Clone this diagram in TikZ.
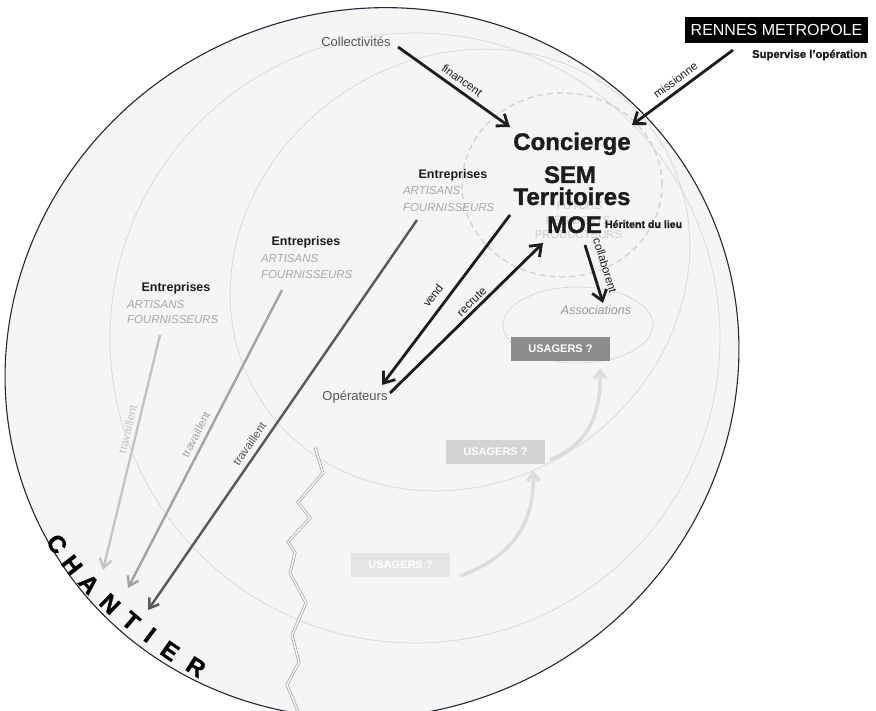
\documentclass[tikz,border=0pt]{standalone}
\usepackage{fontspec}
\setmainfont{Liberation Sans}
\newfontfamily\heavyfont{Liberation Sans}[UprightFeatures={FakeBold=1.3}, BoldFeatures={FakeBold=1.3}]
\usetikzlibrary{arrows.meta}
\definecolor{bgc}{HTML}{F5F5F5}
\definecolor{edgec}{HTML}{1E2B36}
\definecolor{ringc}{HTML}{DADADA}
\definecolor{dashc}{HTML}{D2D2D2}
\definecolor{inkc}{HTML}{1C1C1C}
\definecolor{txtgray}{HTML}{555555}
\definecolor{ghost}{HTML}{CDCDCD}
\definecolor{lightit}{HTML}{A8A8A8}
\definecolor{assoctxt}{HTML}{999999}
\definecolor{trava}{HTML}{C4C4C4}
\definecolor{travb}{HTML}{A3A3A3}
\definecolor{travc}{HTML}{585858}
\definecolor{usga}{HTML}{8C8C8E}
\definecolor{usgb}{HTML}{D3D3D5}
\definecolor{usgc}{HTML}{E5E5E7}
\definecolor{usarr}{HTML}{DDDDDD}
\definecolor{zigc}{HTML}{9A9A9A}
\newcommand{\myfs}[1]{\fontsize{#1}{#1}\selectfont}
\tikzset{
  ring/.style={draw=ringc, line width=0.8pt},
  bigtxt/.style={font=\heavyfont\bfseries\myfs{24}, text=inkc, anchor=base},
  lbl/.style={font=\myfs{11.5}, text=inkc, inner sep=6pt},
  actor/.style={font=\myfs{13}, text=txtgray, anchor=base},
  ent/.style={font=\bfseries\myfs{12.5}, text=inkc, anchor=base},
  entsub/.style={font=\itshape\myfs{11.5}, text=lightit, anchor=base west},
  ghosttxt/.style={font=\myfs{11.3}, text=ghost},
  usbox/.style={font=\bfseries\myfs{11}, text=white, minimum width=99pt, minimum height=24pt},
  blackarrow/.style={draw=inkc, line width=2.8pt, -{Straight Barb[length=10pt,width=15pt]}},
  travarrow/.style={line width=2.4pt, -{Straight Barb[length=9pt,width=12pt]}},
  usarrow/.style={draw=usarr, line width=3.5pt, -{Straight Barb[length=8pt,width=12pt]}},
  chl/.style={font=\heavyfont\bfseries\myfs{24}, text=black},
  zig/.style={draw=zigc, line width=0.6pt, double=bgc, double distance=1.6pt},
}
\begin{document}
\begin{tikzpicture}[x=1pt,y=-1pt, every node/.style={inner sep=0pt,outer sep=0pt}]
\useasboundingbox (0,0) rectangle (876,711);
\clip (0,0) rectangle (876,711);
\fill[white] (0,0) rectangle (876,711);
% outer world
\filldraw[fill=bgc, draw=edgec, line width=1.1pt, rotate around={25:(372,363)}] (372,363) ellipse [x radius=370pt, y radius=352pt];
% rings
\draw[ring] (415,338) circle [radius=305pt];
\draw[ring, rotate around={35:(460,270)}] (460,270) ellipse [x radius=238pt, y radius=212pt];
\draw[draw=dashc, line width=1.4pt, dash pattern=on 6pt off 4pt] (562,185) ellipse [x radius=100pt, y radius=92pt];
\draw[ring] (578,325) ellipse [x radius=75pt, y radius=38pt];
% zigzag
\draw[zig] (315,447) -- (323,473) -- (298,502) -- (310,518) -- (288,542) -- (295,553) -- (290,573) -- (306,603) -- (292,635) -- (299,662) -- (287,685) -- (298,711);
% ghost texts
\node[ghosttxt] (fut) at (579.5,206) {FUTURS};
\node[ghosttxt] (res) at (578,220) {RÉSIDENTS};
\node[ghosttxt] (prod) at (578.5,235) {PRODUCTEURS};
% usagers
\node[usbox, fill=usga] (usa) at (560.5,349) {USAGERS ?};
\node[usbox, fill=usgb] (usb) at (495.5,452) {USAGERS ?};
\node[usbox, fill=usgc] (usc) at (400.5,565) {USAGERS ?};
\coordinate (usaS) at (460,576);
\coordinate (usaE) at (533,470);
\coordinate (usbS) at (550,460);
\coordinate (usbE) at (600,368);
\draw[usarrow] (usaS) .. controls (515,556) and (535,520) .. (usaE);
\draw[usarrow] (usbS) .. controls (585,445) and (601,420) .. (usbE);
% texts
\node[actor] (coll) at (356,46.5) {Collectivités};
\node[actor] (oper) at (355,401) {Opérateurs};
\node[fill=black, text=white, font=\myfs{16}, minimum width=183pt, minimum height=26pt] (rennes) at (776.5,30) {RENNES METROPOLE};
\node[font=\heavyfont\bfseries\myfs{11.3}, text=inkc, anchor=base east] (superv) at (867,58) {Supervise l’opération};
\node[bigtxt] (conc) at (572,150) {Concierge};
\node[bigtxt] (sem) at (570,183) {SEM};
\node[bigtxt] (terr) at (572,205) {Territoires};
\node[bigtxt] (moe) at (574.5,233) {MOE};
\node[font=\heavyfont\bfseries\myfs{10.6}, text=inkc, anchor=base west] (herit) at (605,228) {Héritent du lieu};
\node[font=\itshape\myfs{12.5}, text=assoctxt, anchor=base] (assoc) at (596,315) {Associations};
% entreprises
\node[ent] (ea) at (176,291.7) {Entreprises};
\node[entsub] (eaa) at (127,308.3) {ARTISANS};
\node[entsub] (eaf) at (127,324) {FOURNISSEURS};
\node[ent] (eb) at (306,246) {Entreprises};
\node[entsub] (eba) at (261,262.7) {ARTISANS};
\node[entsub] (ebf) at (261,278.3) {FOURNISSEURS};
\node[ent] (ec) at (453,178.3) {Entreprises};
\node[entsub] (eca) at (403,195) {ARTISANS};
\node[entsub] (ecf) at (403,211.7) {FOURNISSEURS};
% black arrows
\coordinate (finS) at (398,47);
\coordinate (finE) at (510,127);
\draw[blackarrow] (finS) -- node[lbl, sloped, above, pos=0.52] {financent} (finE);
\coordinate (misS) at (733,50);
\coordinate (misE) at (632,125);
\draw[blackarrow] (misS) -- node[lbl, sloped, above, pos=0.51] {missionne} (misE);
\coordinate (venS) at (510,215);
\coordinate (venE) at (382,385);
\draw[blackarrow] (venS) -- node[lbl, inner sep=9pt, sloped, above, pos=0.52] {vend} (venE);
\coordinate (recS) at (390,393);
\coordinate (recE) at (543,243);
\draw[blackarrow] (recS) -- node[lbl, inner sep=4pt, sloped, above, pos=0.57] {recrute} (recE);
\coordinate (colS) at (585,245);
\coordinate (colE) at (603,303);
\draw[blackarrow] (colS) -- node[lbl, inner sep=9pt, sloped, above, pos=0.42] {collaborent} (colE);
% travaillent arrows
\coordinate (taS) at (160,335);
\coordinate (taE) at (103,570);
\draw[travarrow, draw=trava] (taS) -- node[lbl, inner sep=5pt, text=trava, sloped, above, pos=0.41] {travaillent} (taE);
\coordinate (tbS) at (282,290);
\coordinate (tbE) at (128,588);
\draw[travarrow, draw=travb] (tbS) -- node[lbl, text=travb, sloped, above, pos=0.5] {travaillent} (tbE);
\coordinate (tcS) at (417,220);
\coordinate (tcE) at (148,610);
\draw[travarrow, draw=travc] (tcS) -- node[lbl, inner sep=6.5pt, text=travc, sloped, above, pos=0.59] {travaillent} (tcE);
% CHANTIER
\node[chl, rotate=-55] (chC) at (57,544) {C};
\node[chl, rotate=-52] (chH) at (72,565) {H};
\node[chl, rotate=-48] (chA) at (89,584) {A};
\node[chl, rotate=-44] (chN) at (110,604) {N};
\node[chl, rotate=-40] (chT) at (131,621) {T};
\node[chl, rotate=-37] (chI) at (150,635) {I};
\node[chl, rotate=-35] (chE) at (170,651) {E};
\node[chl, rotate=-32] (chR) at (196,667) {R};
\end{tikzpicture}
\end{document}
